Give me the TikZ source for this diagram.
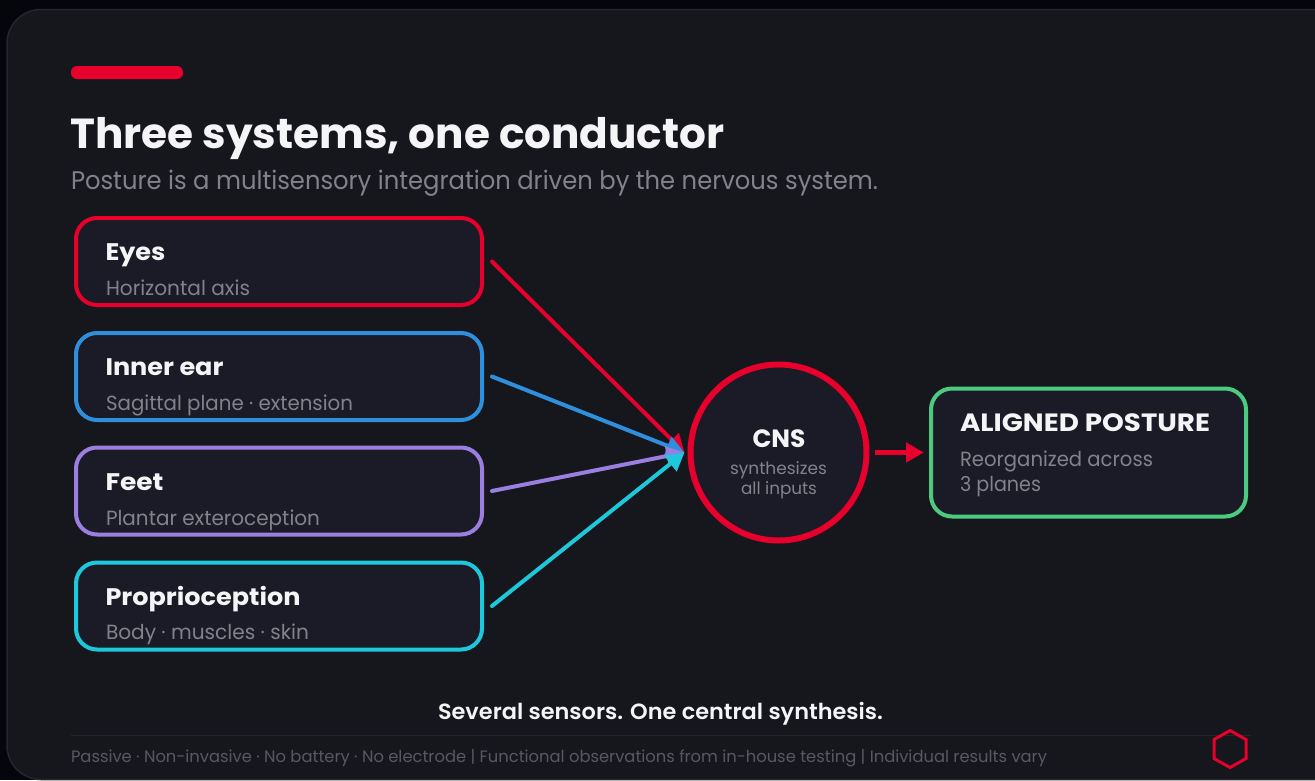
\documentclass[tikz,border=0pt]{standalone}
\usepackage{fontspec}
\usepackage{graphicx}
\usetikzlibrary{arrows.meta}
\setmainfont{Poppins}
\newfontfamily\lightfont{Poppins}
\newfontfamily\semifont{Poppins}[UprightFont=* SemiBold]
\definecolor{pagebg}{HTML}{05050C}
\definecolor{cardbg}{HTML}{16171D}
\definecolor{cardln}{HTML}{25262E}
\definecolor{boxbg}{HTML}{1A1B26}
\definecolor{cred}{HTML}{E8002D}
\definecolor{cblue}{HTML}{2E8FDC}
\definecolor{cpurple}{HTML}{9B7FE0}
\definecolor{ccyan}{HTML}{1EC8DC}
\definecolor{cgreen}{HTML}{4CCB80}
\definecolor{txtw}{HTML}{F5F5F7}
\definecolor{txtg}{HTML}{82828C}
\definecolor{txtf}{HTML}{585862}
\newcommand{\fitw}[2]{\resizebox{#1pt}{\height}{#2}}
\newcommand{\fs}[1]{\fontsize{#1pt}{#1pt}\selectfont}
\tikzset{
  x=1pt,y=-1pt,
  lab/.style={anchor=base west,inner sep=0pt,outer sep=0pt},
  clab/.style={anchor=base,inner sep=0pt,outer sep=0pt},
  head/.style={text=txtw,font=\bfseries\fs{24}},
  sub/.style={text=txtg,font=\lightfont\fs{20.5}},
  srcbox/.style={draw=#1,fill=boxbg,line width=4pt,rounded corners=21pt,minimum width=406pt,minimum height=87pt,inner sep=0pt,outer sep=0pt},
  link/.style={draw=#1,line width=4pt,line cap=round,-{Triangle[length=18pt,width=19pt,fill=#1]}},
}
\begin{document}
\begin{tikzpicture}
\useasboundingbox (0,0) rectangle (1315,780);
\fill[pagebg] (0,0) rectangle (1315,780);
\path[fill=cardbg,draw=cardln,line width=1.5pt,rounded corners=34pt] (7,9.5) rectangle (1350,779.5);
\fill[cred,rounded corners=6pt] (71,66) rectangle (183,79);
\node[lab,text=txtw,font=\bfseries\fs{42}] (title) at (70.5,148) {\fitw{654}{Three systems, one conductor}};
\node[lab,text=txtg,font=\lightfont\fs{25.5}] (subtitle) at (71,189) {\fitw{807}{Posture is a multisensory integration driven by the nervous system.}};

\node[srcbox=cred] (eyes) at (279,261.5) {};
\node[srcbox=cblue] (ear) at (279,376.5) {};
\node[srcbox=cpurple] (feet) at (279,491) {};
\node[srcbox=ccyan] (prop) at (279,606) {};
\node[lab,head] (eyesT) at (105.5,260.5) {\fitw{60}{Eyes}};
\node[lab,sub] (eyesS) at (106,295) {\fitw{144}{Horizontal axis}};
\node[lab,head] (earT) at (105.5,375) {\fitw{118}{Inner ear}};
\node[lab,sub] (earS) at (106,410) {\fitw{247}{Sagittal plane · extension}};
\node[lab,head] (feetT) at (105.5,490) {\fitw{58}{Feet}};
\node[lab,sub] (feetS) at (106,525) {\fitw{214}{Plantar exteroception}};
\node[lab,head] (propT) at (105.5,605) {\fitw{195}{Proprioception}};
\node[lab,sub] (propS) at (106,639) {\fitw{203}{Body · muscles · skin}};

\node[circle,draw=cred,fill=boxbg,line width=6pt,minimum size=176pt,inner sep=0pt,outer sep=0pt] (cns) at (778.5,452.5) {};
\node[clab,text=txtw,font=\bfseries\fs{25}] (cnsT) at (779,447) {\fitw{53}{CNS}};
\node[clab,text=txtg,font=\lightfont\fs{17}] (cnsA) at (778.5,474) {\fitw{97}{synthesizes}};
\node[clab,text=txtg,font=\lightfont\fs{17}] (cnsB) at (779,494) {\fitw{76}{all inputs}};

\node[draw=cgreen,fill=boxbg,line width=4pt,rounded corners=21pt,minimum width=315pt,minimum height=128pt,inner sep=0pt,outer sep=0pt] (aligned) at (1088.5,452.5) {};
\node[lab,head,font=\bfseries\fs{25}] (alT) at (960,431) {\fitw{250}{ALIGNED POSTURE}};
\node[lab,sub] (alA) at (960,466) {\fitw{193}{Reorganized across}};
\node[lab,sub] (alB) at (960,491) {\fitw{81}{3 planes}};

\path[link=cred] ([xshift=10pt]eyes.east) -- ([xshift=-6pt]cns.west);
\path[link=cblue] ([xshift=10pt]ear.east) -- ([xshift=-6pt]cns.west);
\path[link=cpurple] ([xshift=10pt]feet.east) -- ([xshift=-6pt]cns.west);
\path[link=ccyan] ([xshift=10pt]prop.east) -- ([xshift=-6pt]cns.west);
\path[link=cred,line width=5pt,line cap=butt] ([xshift=8pt]cns.east) -- ([xshift=-7pt]aligned.west);

\node[clab,text=txtw,font=\semifont\fs{22}] (tagline) at (660.5,719) {\fitw{445}{Several sensors. One central synthesis.}};
\coordinate (ruleL) at (71,735.5);
\coordinate (ruleR) at (1251,735.5);
\draw[cardln,line width=1pt] (ruleL) -- (ruleR);
\node[lab,text=txtf,font=\lightfont\fs{16.5}] (footer) at (71,762) {\fitw{976}{Passive · Non-invasive · No battery · No electrode | Functional observations from in-house testing | Individual results vary}};
\draw[cred,line width=3pt,line join=miter] (1230,730.5) -- (1246,739.5) -- (1246,758.5) -- (1230,767.5) -- (1214,758.5) -- (1214,739.5) -- cycle;
\end{tikzpicture}
\end{document}
